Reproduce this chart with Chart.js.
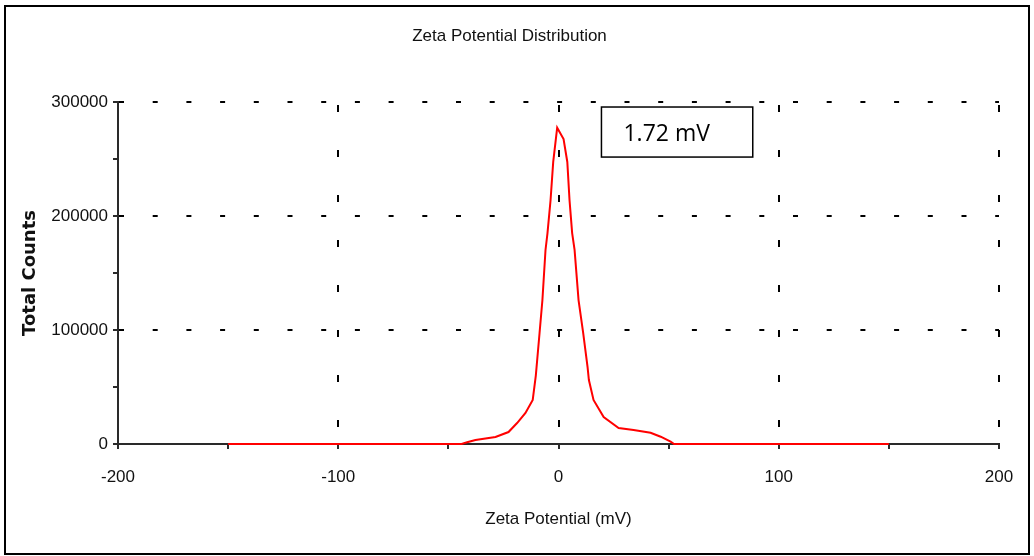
<!DOCTYPE html>
<html>
<head>
<meta charset="utf-8">
<title>Zeta Potential Distribution</title>
<script src="https://cdn.jsdelivr.net/npm/chart.js@4.4.1/dist/chart.umd.min.js"></script>
<style>
    html, body { margin: 0; padding: 0; background: #fff; }
    #wrap { position: relative; width: 1034px; height: 556px; }
    #frame {
        position: absolute; left: 4px; top: 5px; width: 1026px; height: 550px;
        border: 2px solid #000; box-sizing: border-box; pointer-events: none;
    }
    canvas { position: absolute; left: 0; top: 0; }
</style>
</head>
<body>
<div id="wrap">
    <canvas id="zeta" width="1034" height="556"></canvas>
    <div id="frame"></div>
</div>
<script>
// Zeta potential (mV) and total counts of the measured distribution
const zetaMv = [-150, -44, -41.5, -37.7, -28.6, -22.7, -18.8, -15, -11.7, -10.3, -8.6, -7.3, -5.9, -5, -3.6, -2.4, -0.6,
    2.3, 4, 5, 6.2, 7.3, 9.1, 11.2, 13.2, 13.8, 15.9, 20.5, 27.3, 34.1, 41.8, 46.4, 50.9, 52.5, 150];
const totalCounts = [0, 0, 1500, 3500, 6100, 10500, 18400, 27200, 38600, 60000, 97400, 126300, 170200, 185000, 214000, 247400, 277500,
    267500, 247400, 214000, 185000, 170200, 126300, 97400, 67500, 56100, 38600, 23700, 14000, 12300, 9900, 6400, 2000, 0, 0];

const xTicks = [-200, -100, 0, 100, 200];
const yTicks = [0, 100000, 200000, 300000];
const meanZeta = '1.72 mV';

const FONT = 'Arial, "Liberation Sans", sans-serif';
const INK = '#111';
const AXIS = '#2a2a2a';

// mean value box in the upper right of the plot
const meanBox = {
    id: 'meanBox',
    afterDatasetsDraw(chart) {
        const { ctx, scales: { x, y } } = chart;
        const left = x.getPixelForValue(19.5);
        const right = x.getPixelForValue(88.2);
        const top = y.getPixelForValue(295600);
        const bottom = y.getPixelForValue(251700);
        ctx.save();
        ctx.fillStyle = '#fff';
        ctx.fillRect(left, top, right - left, bottom - top);
        ctx.strokeStyle = '#000';
        ctx.lineWidth = 1.5;
        ctx.strokeRect(left, top, right - left, bottom - top);
        ctx.fillStyle = '#000';
        ctx.font = '23px "Open Sans", sans-serif';
        ctx.textBaseline = 'middle';
        ctx.fillText(meanZeta, left + 22, (top + bottom) / 2 + 2);
        ctx.restore();
    }
};

const ctx = document.getElementById('zeta').getContext('2d');

new Chart(ctx, {
    type: 'line',
    data: {
        datasets: [{
            data: zetaMv.map((mv, i) => ({ x: mv, y: totalCounts[i] })),
            borderColor: '#ff0000',
            borderWidth: 2,
            pointRadius: 0,
            tension: 0,
            fill: false,
            clip: 4
        }]
    },
    options: {
        responsive: false,
        animation: false,
        layout: { padding: { left: 20, right: 35, top: 0, bottom: 16 } },
        plugins: {
            legend: { display: false },
            tooltip: { enabled: false },
            title: {
                display: true,
                text: 'Zeta Potential Distribution',
                color: INK,
                font: { family: FONT, size: 17, weight: 'normal' },
                padding: { top: 26, bottom: 55.6 }
            }
        },
        scales: {
            x: {
                type: 'linear',
                min: -200,
                max: 200,
                afterFit(scale) { scale.height = 96; },
                ticks: {
                    stepSize: 50,
                    autoSkip: false,
                    maxRotation: 0,
                    padding: 18,
                    color: INK,
                    font: { family: FONT, size: 17 },
                    callback: v => xTicks.includes(v) ? String(v) : ''
                },
                grid: {
                    lineWidth: 2,
                    tickLength: 5,
                    tickWidth: 2,
                    tickColor: AXIS,
                    color: c => (c.tick && xTicks.includes(c.tick.value)) ? '#000' : 'rgba(0,0,0,0)'
                },
                border: { color: AXIS, width: 2, dash: [7, 38], dashOffset: 42 },
                title: {
                    display: true,
                    text: 'Zeta Potential (mV)',
                    color: INK,
                    font: { family: FONT, size: 17 },
                    padding: { top: 0, bottom: 10 }
                }
            },
            y: {
                min: 0,
                max: 300000,
                afterFit(scale) { scale.width = 98; },
                ticks: {
                    stepSize: 50000,
                    autoSkip: false,
                    padding: 5,
                    color: INK,
                    font: { family: FONT, size: 17 },
                    callback: v => yTicks.includes(v) ? String(v) : ''
                },
                grid: {
                    lineWidth: 2,
                    tickLength: 5,
                    tickWidth: 2,
                    tickColor: AXIS,
                    color: c => (c.tick && yTicks.includes(c.tick.value)) ? '#000' : 'rgba(0,0,0,0)'
                },
                border: { color: AXIS, width: 2, dash: [5, 28.7] },
                title: {
                    display: true,
                    text: 'Total Counts',
                    color: INK,
                    font: { family: '"DejaVu Sans", sans-serif', size: 18, weight: 'bold' },
                    padding: { top: 0, bottom: 0 }
                }
            }
        }
    },
    plugins: [meanBox]
});
</script>
</body>
</html>
